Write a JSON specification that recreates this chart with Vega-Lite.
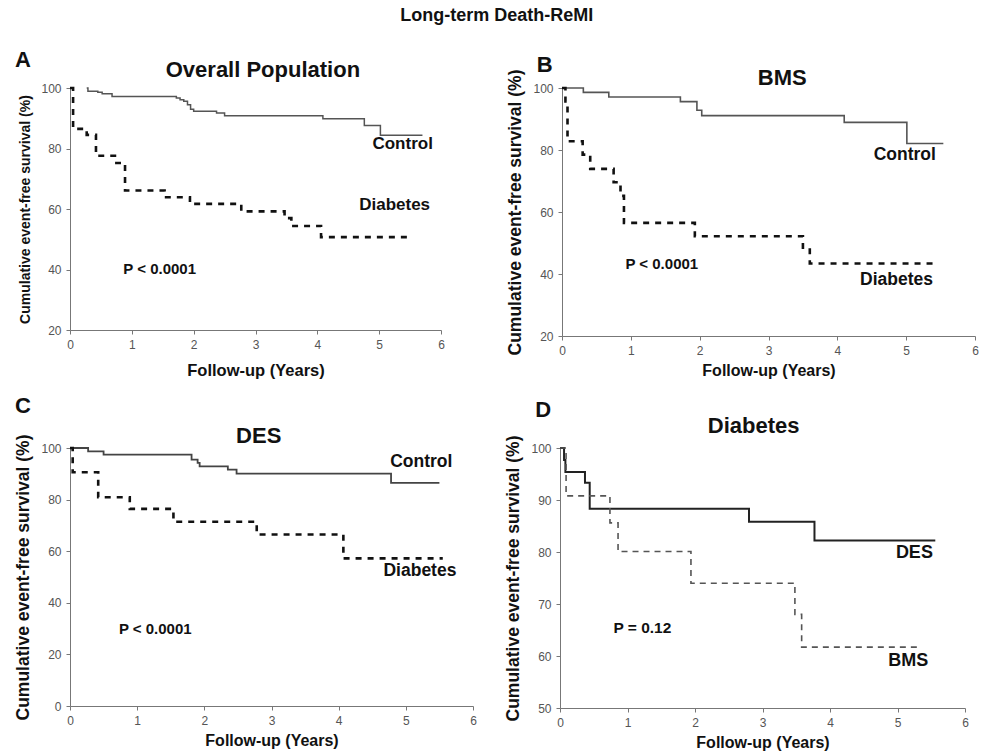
{
  "$schema": "https://vega.github.io/schema/vega-lite/v6.json",
  "background": "white",
  "padding": {"left": 14, "top": 6, "right": 6, "bottom": 2},
  "title": {"text": "Long-term Death-ReMI", "fontSize": 18, "fontWeight": "bold", "font": "Liberation Sans", "color": "#111", "anchor": "middle", "offset": 24},
  "config": {
    "font": "Liberation Sans",
    "view": {"stroke": null},
    "axis": {"grid": false, "labelColor": "#555", "labelFontSize": 12, "labelFont": "Liberation Sans", "domainColor": "#777", "tickColor": "#777", "tickSize": 4, "titleFont": "Liberation Sans", "titleFontWeight": "bold", "titleColor": "#111", "labelOverlap": false, "labelFlush": false, "format": "d"},
    "axisX": {"labelPadding": 5, "titlePadding": 10},
    "axisY": {"labelPadding": 5, "titlePadding": 8},
    "text": {"font": "Liberation Sans", "fontWeight": "bold", "color": "#111", "align": "center", "baseline": "middle"},
    "concat": {"spacing": 16}
  },
  "datasets": {
    "A": [
      {"g": "Control", "t": 0.27, "s": 100}, {"g": "Control", "t": 0.29, "s": 98.9}, {"g": "Control", "t": 0.45, "s": 98.6}, {"g": "Control", "t": 0.52, "s": 98.1}, {"g": "Control", "t": 0.68, "s": 97.2}, {"g": "Control", "t": 1.72, "s": 96.7}, {"g": "Control", "t": 1.78, "s": 96.1}, {"g": "Control", "t": 1.84, "s": 95.6}, {"g": "Control", "t": 1.9, "s": 94.5}, {"g": "Control", "t": 1.95, "s": 93.0}, {"g": "Control", "t": 2.0, "s": 92.3}, {"g": "Control", "t": 2.37, "s": 91.7}, {"g": "Control", "t": 2.5, "s": 90.8}, {"g": "Control", "t": 4.09, "s": 89.8}, {"g": "Control", "t": 4.76, "s": 87.6}, {"g": "Control", "t": 5.02, "s": 84.4}, {"g": "Control", "t": 5.7, "s": 84.4},
      {"g": "Diabetes", "t": 0.0, "s": 100}, {"g": "Diabetes", "t": 0.05, "s": 86.5}, {"g": "Diabetes", "t": 0.27, "s": 84.5}, {"g": "Diabetes", "t": 0.42, "s": 77.6}, {"g": "Diabetes", "t": 0.75, "s": 75.2}, {"g": "Diabetes", "t": 0.89, "s": 66.1}, {"g": "Diabetes", "t": 1.53, "s": 63.9}, {"g": "Diabetes", "t": 1.94, "s": 61.7}, {"g": "Diabetes", "t": 2.77, "s": 59.2}, {"g": "Diabetes", "t": 3.47, "s": 57.0}, {"g": "Diabetes", "t": 3.58, "s": 54.4}, {"g": "Diabetes", "t": 4.06, "s": 50.7}, {"g": "Diabetes", "t": 5.54, "s": 50.7}
    ],
    "Alab": [
      {"label": "A", "t": -0.76, "s": 109.3, "k": "head"},
      {"label": "Overall Population", "t": 3.12, "s": 106.1, "k": "head"},
      {"label": "Control", "t": 5.38, "s": 81.5, "k": "curve"},
      {"label": "Diabetes", "t": 5.25, "s": 61.4, "k": "curve"},
      {"label": "P < 0.0001", "t": 1.45, "s": 40.1, "k": "p"}
    ],
    "B": [
      {"g": "Control", "t": 0.0, "s": 100}, {"g": "Control", "t": 0.31, "s": 98.6}, {"g": "Control", "t": 0.68, "s": 97.1}, {"g": "Control", "t": 1.72, "s": 95.6}, {"g": "Control", "t": 1.96, "s": 92.8}, {"g": "Control", "t": 2.03, "s": 91.1}, {"g": "Control", "t": 4.1, "s": 88.9}, {"g": "Control", "t": 5.01, "s": 82.1}, {"g": "Control", "t": 5.54, "s": 82.1},
      {"g": "Diabetes", "t": 0.0, "s": 100}, {"g": "Diabetes", "t": 0.05, "s": 95.7}, {"g": "Diabetes", "t": 0.08, "s": 82.8}, {"g": "Diabetes", "t": 0.3, "s": 78.5}, {"g": "Diabetes", "t": 0.41, "s": 73.9}, {"g": "Diabetes", "t": 0.75, "s": 69.6}, {"g": "Diabetes", "t": 0.85, "s": 65.2}, {"g": "Diabetes", "t": 0.9, "s": 56.5}, {"g": "Diabetes", "t": 1.93, "s": 52.2}, {"g": "Diabetes", "t": 3.5, "s": 47.9}, {"g": "Diabetes", "t": 3.6, "s": 43.4}, {"g": "Diabetes", "t": 5.44, "s": 43.4}
    ],
    "Blab": [
      {"label": "B", "t": -0.25, "s": 107.4, "k": "head"},
      {"label": "BMS", "t": 3.2, "s": 103.1, "k": "head"},
      {"label": "Control", "t": 4.98, "s": 78.5, "k": "curve"},
      {"label": "Diabetes", "t": 4.86, "s": 38.0, "k": "curve"},
      {"label": "P < 0.0001", "t": 1.45, "s": 43.1, "k": "p"}
    ],
    "C": [
      {"g": "Control", "t": 0.0, "s": 100}, {"g": "Control", "t": 0.27, "s": 98.7}, {"g": "Control", "t": 0.5, "s": 97.4}, {"g": "Control", "t": 1.81, "s": 95.5}, {"g": "Control", "t": 1.9, "s": 94.2}, {"g": "Control", "t": 1.93, "s": 92.9}, {"g": "Control", "t": 2.35, "s": 91.6}, {"g": "Control", "t": 2.48, "s": 90.1}, {"g": "Control", "t": 4.78, "s": 86.5}, {"g": "Control", "t": 5.5, "s": 86.5},
      {"g": "Diabetes", "t": 0.0, "s": 100}, {"g": "Diabetes", "t": 0.04, "s": 90.6}, {"g": "Diabetes", "t": 0.42, "s": 80.9}, {"g": "Diabetes", "t": 0.89, "s": 76.4}, {"g": "Diabetes", "t": 1.54, "s": 71.4}, {"g": "Diabetes", "t": 2.78, "s": 66.5}, {"g": "Diabetes", "t": 4.07, "s": 57.2}, {"g": "Diabetes", "t": 5.55, "s": 57.2}
    ],
    "Clab": [
      {"label": "C", "t": -0.7, "s": 116.1, "k": "head"},
      {"label": "DES", "t": 2.81, "s": 104.65, "k": "head"},
      {"label": "Control", "t": 5.23, "s": 94.6, "k": "curve"},
      {"label": "Diabetes", "t": 5.21, "s": 52.5, "k": "curve"},
      {"label": "P < 0.0001", "t": 1.27, "s": 29.7, "k": "p"}
    ],
    "D": [
      {"g": "DES", "t": 0.0, "s": 100}, {"g": "DES", "t": 0.06, "s": 97.7}, {"g": "DES", "t": 0.08, "s": 95.4}, {"g": "DES", "t": 0.37, "s": 93.3}, {"g": "DES", "t": 0.44, "s": 88.3}, {"g": "DES", "t": 2.8, "s": 85.8}, {"g": "DES", "t": 3.77, "s": 82.2}, {"g": "DES", "t": 5.56, "s": 82.2},
      {"g": "BMS", "t": 0.0, "s": 100}, {"g": "BMS", "t": 0.09, "s": 90.8}, {"g": "BMS", "t": 0.74, "s": 85.6}, {"g": "BMS", "t": 0.86, "s": 80.1}, {"g": "BMS", "t": 1.94, "s": 74.0}, {"g": "BMS", "t": 3.48, "s": 68.0}, {"g": "BMS", "t": 3.58, "s": 61.7}, {"g": "BMS", "t": 5.36, "s": 61.7}
    ],
    "Dlab": [
      {"label": "D", "t": -0.25, "s": 107.4, "k": "head"},
      {"label": "Diabetes", "t": 2.87, "s": 104.2, "k": "head"},
      {"label": "DES", "t": 5.25, "s": 79.9, "k": "curve"},
      {"label": "BMS", "t": 5.16, "s": 59.0, "k": "curve"},
      {"label": "P = 0.12", "t": 1.22, "s": 65.4, "k": "p"}
    ]
  },
  "vconcat": [
    {
      "align": "none",
      "hconcat": [
        {
          "width": 371, "height": 242,
          "layer": [
            {
              "data": {"name": "A"},
              "transform": [{"filter": "datum.g === 'Control'"}],
              "mark": {"type": "line", "interpolate": "step-after", "color": "#555", "strokeWidth": 1.5},
              "encoding": {
                "x": {"field": "t", "type": "quantitative", "scale": {"domain": [0, 6], "nice": false}, "axis": {"values": [0, 1, 2, 3, 4, 5, 6], "title": "Follow-up (Years)", "titleFontSize": 16.5, "titlePadding": 12}},
                "y": {"field": "s", "type": "quantitative", "scale": {"domain": [20, 100], "nice": false}, "axis": {"values": [20, 30, 40, 50, 60, 70, 80, 90, 100], "title": "Cumulative event-free survival (%)", "titleFontSize": 14, "titlePadding": 8}}
              }
            },
            {
              "data": {"name": "A"},
              "transform": [{"filter": "datum.g === 'Diabetes'"}],
              "mark": {"type": "line", "interpolate": "step-after", "color": "#111", "strokeWidth": 2.6, "strokeDash": [6, 6]},
              "encoding": {"x": {"field": "t", "type": "quantitative"}, "y": {"field": "s", "type": "quantitative"}}
            },
            {
              "data": {"name": "Alab"},
              "transform": [{"filter": "datum.k === 'head'"}],
              "mark": {"type": "text", "fontSize": 22},
              "encoding": {"x": {"field": "t", "type": "quantitative"}, "y": {"field": "s", "type": "quantitative"}, "text": {"field": "label"}}
            },
            {
              "data": {"name": "Alab"},
              "transform": [{"filter": "datum.k === 'curve'"}],
              "mark": {"type": "text", "fontSize": 17},
              "encoding": {"x": {"field": "t", "type": "quantitative"}, "y": {"field": "s", "type": "quantitative"}, "text": {"field": "label"}}
            },
            {
              "data": {"name": "Alab"},
              "transform": [{"filter": "datum.k === 'p'"}],
              "mark": {"type": "text", "fontSize": 15},
              "encoding": {"x": {"field": "t", "type": "quantitative"}, "y": {"field": "s", "type": "quantitative"}, "text": {"field": "label"}}
            }
          ]
        },
        {
          "width": 413, "height": 248,
          "layer": [
            {
              "data": {"name": "B"},
              "transform": [{"filter": "datum.g === 'Control'"}],
              "mark": {"type": "line", "interpolate": "step-after", "color": "#555", "strokeWidth": 1.6},
              "encoding": {
                "x": {"field": "t", "type": "quantitative", "scale": {"domain": [0, 6], "nice": false}, "axis": {"values": [0, 1, 2, 3, 4, 5, 6], "title": "Follow-up (Years)", "titleFontSize": 16, "titlePadding": 6}},
                "y": {"field": "s", "type": "quantitative", "scale": {"domain": [20, 100], "nice": false}, "axis": {"values": [20, 30, 40, 50, 60, 70, 80, 90, 100], "title": "Cumulative event-free survival (%)", "titleFontSize": 17.5, "titlePadding": 8}}
              }
            },
            {
              "data": {"name": "B"},
              "transform": [{"filter": "datum.g === 'Diabetes'"}],
              "mark": {"type": "line", "interpolate": "step-after", "color": "#111", "strokeWidth": 2.6, "strokeDash": [6, 6]},
              "encoding": {"x": {"field": "t", "type": "quantitative"}, "y": {"field": "s", "type": "quantitative"}}
            },
            {
              "data": {"name": "Blab"},
              "transform": [{"filter": "datum.k === 'head'"}],
              "mark": {"type": "text", "fontSize": 22},
              "encoding": {"x": {"field": "t", "type": "quantitative"}, "y": {"field": "s", "type": "quantitative"}, "text": {"field": "label"}}
            },
            {
              "data": {"name": "Blab"},
              "transform": [{"filter": "datum.k === 'curve'"}],
              "mark": {"type": "text", "fontSize": 17.5},
              "encoding": {"x": {"field": "t", "type": "quantitative"}, "y": {"field": "s", "type": "quantitative"}, "text": {"field": "label"}}
            },
            {
              "data": {"name": "Blab"},
              "transform": [{"filter": "datum.k === 'p'"}],
              "mark": {"type": "text", "fontSize": 15},
              "encoding": {"x": {"field": "t", "type": "quantitative"}, "y": {"field": "s", "type": "quantitative"}, "text": {"field": "label"}}
            }
          ]
        }
      ],
      "spacing": 61
    },
    {
      "align": "none",
      "hconcat": [
        {
          "width": 403, "height": 258,
          "layer": [
            {
              "data": {"name": "C"},
              "transform": [{"filter": "datum.g === 'Control'"}],
              "mark": {"type": "line", "interpolate": "step-after", "color": "#444", "strokeWidth": 1.8},
              "encoding": {
                "x": {"field": "t", "type": "quantitative", "scale": {"domain": [0, 6], "nice": false}, "axis": {"values": [0, 1, 2, 3, 4, 5, 6], "title": "Follow-up (Years)", "titleFontSize": 16, "titlePadding": 6}},
                "y": {"field": "s", "type": "quantitative", "scale": {"domain": [0, 100], "nice": false}, "axis": {"values": [0, 20, 40, 60, 80, 100], "title": "Cumulative event-free survival (%)", "titleFontSize": 17.5, "titlePadding": 8}}
              }
            },
            {
              "data": {"name": "C"},
              "transform": [{"filter": "datum.g === 'Diabetes'"}],
              "mark": {"type": "line", "interpolate": "step-after", "color": "#111", "strokeWidth": 2.6, "strokeDash": [6, 6]},
              "encoding": {"x": {"field": "t", "type": "quantitative"}, "y": {"field": "s", "type": "quantitative"}}
            },
            {
              "data": {"name": "Clab"},
              "transform": [{"filter": "datum.k === 'head'"}],
              "mark": {"type": "text", "fontSize": 22},
              "encoding": {"x": {"field": "t", "type": "quantitative"}, "y": {"field": "s", "type": "quantitative"}, "text": {"field": "label"}}
            },
            {
              "data": {"name": "Clab"},
              "transform": [{"filter": "datum.k === 'curve'"}],
              "mark": {"type": "text", "fontSize": 17.5},
              "encoding": {"x": {"field": "t", "type": "quantitative"}, "y": {"field": "s", "type": "quantitative"}, "text": {"field": "label"}}
            },
            {
              "data": {"name": "Clab"},
              "transform": [{"filter": "datum.k === 'p'"}],
              "mark": {"type": "text", "fontSize": 15},
              "encoding": {"x": {"field": "t", "type": "quantitative"}, "y": {"field": "s", "type": "quantitative"}, "text": {"field": "label"}}
            }
          ]
        },
        {
          "width": 405, "height": 260,
          "layer": [
            {
              "data": {"name": "D"},
              "transform": [{"filter": "datum.g === 'DES'"}],
              "mark": {"type": "line", "interpolate": "step-after", "color": "#222", "strokeWidth": 2},
              "encoding": {
                "x": {"field": "t", "type": "quantitative", "scale": {"domain": [0, 6], "nice": false}, "axis": {"values": [0, 1, 2, 3, 4, 5, 6], "title": "Follow-up (Years)", "titleFontSize": 16, "titlePadding": 6}},
                "y": {"field": "s", "type": "quantitative", "scale": {"domain": [50, 100], "nice": false}, "axis": {"values": [50, 60, 70, 80, 90, 100], "title": "Cumulative event-free survival (%)", "titleFontSize": 17.5, "titlePadding": 8}}
              }
            },
            {
              "data": {"name": "D"},
              "transform": [{"filter": "datum.g === 'BMS'"}],
              "mark": {"type": "line", "interpolate": "step-after", "color": "#555", "strokeWidth": 1.6, "strokeDash": [6, 5]},
              "encoding": {"x": {"field": "t", "type": "quantitative"}, "y": {"field": "s", "type": "quantitative"}}
            },
            {
              "data": {"name": "Dlab"},
              "transform": [{"filter": "datum.k === 'head'"}],
              "mark": {"type": "text", "fontSize": 22},
              "encoding": {"x": {"field": "t", "type": "quantitative"}, "y": {"field": "s", "type": "quantitative"}, "text": {"field": "label"}}
            },
            {
              "data": {"name": "Dlab"},
              "transform": [{"filter": "datum.k === 'curve'"}],
              "mark": {"type": "text", "fontSize": 18},
              "encoding": {"x": {"field": "t", "type": "quantitative"}, "y": {"field": "s", "type": "quantitative"}, "text": {"field": "label"}}
            },
            {
              "data": {"name": "Dlab"},
              "transform": [{"filter": "datum.k === 'p'"}],
              "mark": {"type": "text", "fontSize": 15.5},
              "encoding": {"x": {"field": "t", "type": "quantitative"}, "y": {"field": "s", "type": "quantitative"}, "text": {"field": "label"}}
            }
          ]
        }
      ],
      "spacing": 27
    }
  ]
}
